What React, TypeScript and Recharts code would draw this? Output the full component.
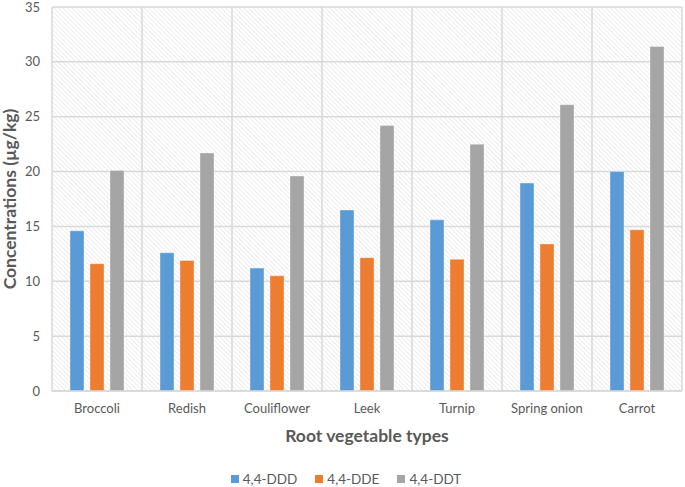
import { Bar, BarChart, CartesianGrid, Legend, XAxis, YAxis } from 'recharts';

const categories = ['Broccoli', 'Redish', 'Couliflower', 'Leek', 'Turnip', 'Spring onion', 'Carrot'];
const ddd = [14.6, 12.6, 11.2, 16.5, 15.6, 18.95, 20.0];
const dde = [11.6, 11.9, 10.5, 12.15, 12.0, 13.4, 14.7];
const ddt = [20.1, 21.7, 19.6, 24.2, 22.5, 26.1, 31.4];
const yTicks = [0, 5, 10, 15, 20, 25, 30, 35];

const SERIES = [
  { key: 'ddd', name: '4,4-DDD', color: '#5b9bd5' },
  { key: 'dde', name: '4,4-DDE', color: '#ed7d31' },
  { key: 'ddt', name: '4,4-DDT', color: '#a5a5a5' },
];

const data = categories.map((name, i) => ({ name, ddd: ddd[i], dde: dde[i], ddt: ddt[i] }));

const FONT = 'Lato, "Open Sans", sans-serif';
const TEXT = '#595959';
const GRID = '#d9d9d9';

function LegendContent() {
  return (
    <div
      style={{
        display: 'flex',
        justifyContent: 'center',
        gap: 18,
        paddingTop: 24,
        paddingLeft: 10,
        fontFamily: FONT,
        fontSize: 13.5,
        color: TEXT,
        lineHeight: '16px',
      }}
    >
      {SERIES.map((s) => (
        <div key={s.key} style={{ display: 'flex', alignItems: 'center', gap: 4 }}>
          <span style={{ width: 8, height: 8, background: s.color, display: 'inline-block' }} />
          <span>{s.name}</span>
        </div>
      ))}
    </div>
  );
}

export default function App() {
  return (
    <div style={{ position: 'absolute', left: 0, top: 0, width: 685, height: 487, background: '#fff' }}>
      <svg width={0} height={0} style={{ position: 'absolute' }}>
        <defs>
          <pattern id="hatch" width={3.2} height={3.2} patternUnits="userSpaceOnUse" patternTransform="rotate(-45)">
            <rect width={3.2} height={3.2} fill="#ffffff" />
            <line x1={0} y1={0} x2={0} y2={3.2} stroke="#e2e2e2" strokeWidth={1.2} />
          </pattern>
        </defs>
      </svg>
      <BarChart
        width={685}
        height={487}
        data={data}
        margin={{ top: 7, right: 3, left: 0, bottom: 0 }}
        barSize={14}
        barGap={6}
      >
        <CartesianGrid
          fill="url(#hatch)"
          stroke={GRID}
          strokeWidth={1.5}
          verticalCoordinatesGenerator={({ offset }: any) =>
            categories.map((_, i) => offset.left + (i * offset.width) / categories.length).concat(offset.left + offset.width)
          }
        />
        <XAxis
          dataKey="name"
          height={56}
          tickLine={false}
          axisLine={{ stroke: GRID, strokeWidth: 1.5 }}
          tickMargin={7}
          tick={{ fill: TEXT, fontSize: 13, fontFamily: FONT }}
          label={{
            value: 'Root vegetable types',
            position: 'insideBottom',
            offset: 5,
            style: { fill: TEXT, fontSize: 17.5, fontWeight: 700, fontFamily: FONT },
          }}
        />
        <YAxis
          width={52}
          domain={[0, 35]}
          ticks={yTicks}
          interval={0}
          tickLine={false}
          axisLine={false}
          tickMargin={6}
          tick={{ fill: TEXT, fontSize: 13, fontFamily: FONT }}
          label={{
            value: 'Concentrations (µg/kg)',
            angle: -90,
            position: 'insideLeft',
            offset: 10,
            style: { fill: TEXT, fontSize: 17.5, fontWeight: 700, fontFamily: FONT, textAnchor: 'middle' },
          }}
        />
        <Legend verticalAlign="bottom" height={40} content={<LegendContent />} wrapperStyle={{ bottom: 0 }} />
        {SERIES.map((s) => (
          <Bar
            key={s.key}
            dataKey={s.key}
            name={s.name}
            fill={s.color}
            stroke="#ffffff"
            strokeOpacity={0.35}
            strokeWidth={1}
            isAnimationActive={false}
          />
        ))}
      </BarChart>
    </div>
  );
}
